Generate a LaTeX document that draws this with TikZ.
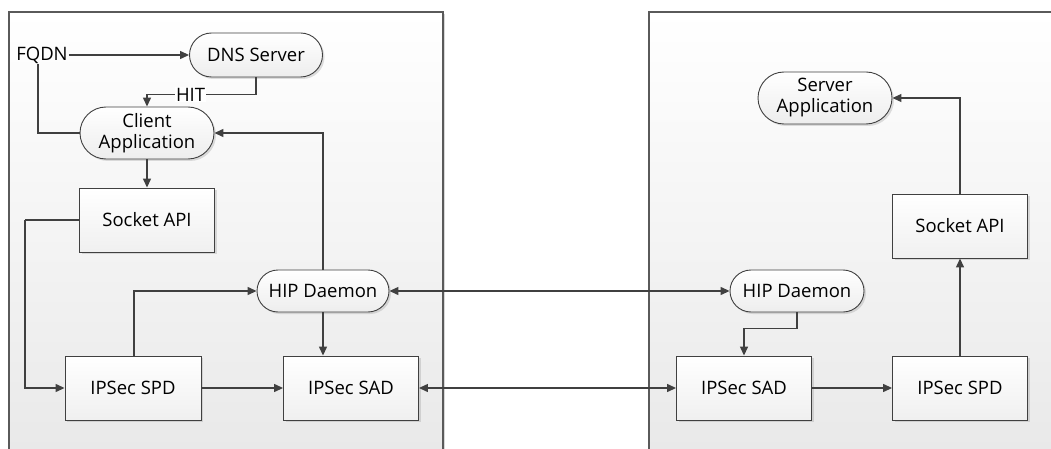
\documentclass[tikz,border=0pt]{standalone}
\usepackage{fontspec}
\setmainfont{Open Sans}
\usetikzlibrary{shapes.misc,arrows.meta,shadows,calc}
\definecolor{edge}{HTML}{404040}
\definecolor{frame}{HTML}{5A5A5A}
\newcommand{\diagfont}{\fontsize{18.5}{21}\selectfont}
\tikzset{
  panel/.style={draw=frame,line width=1.3pt,top color=white,bottom color=black!9},
  procbox/.style={draw=edge,line width=0.9pt,minimum width=135pt,minimum height=64pt,
    top color=white,bottom color=black!6,drop shadow={shadow xshift=2pt,shadow yshift=-2pt,opacity=0.25},
    font=\diagfont,align=center,inner sep=2pt},
  pill/.style={rounded rectangle,draw=edge,line width=0.9pt,minimum width=135pt,
    top color=white,bottom color=black!7,drop shadow={shadow xshift=2pt,shadow yshift=-2pt,opacity=0.25},
    font=\diagfont,align=center,inner sep=1pt},
  link/.style={draw=edge,line width=1.3pt,-{Triangle[width=8pt,length=9pt]}},
  dlink/.style={draw=edge,line width=1.3pt,{Triangle[width=8pt,length=9pt]}-{Triangle[width=8pt,length=9pt]}},
  plain/.style={draw=edge,line width=1.3pt},
  lbl/.style={font=\diagfont,inner sep=1pt}
}
\begin{document}
\begin{tikzpicture}[x=1pt,y=-1pt]
\useasboundingbox (0,0) rectangle (1051,449);
\clip (0,0) rectangle (1051,449);
\fill[white] (0,0) rectangle (1051,449);
% two host panels
\path[panel,drop shadow={shadow xshift=2pt,shadow yshift=-2pt,opacity=0.3}] (9,12) rectangle (443,470);
\path[panel] (649,12) rectangle (1070,470);

% initiating host
\node[lbl] (fqdn) at (42,55) {FQDN};
\node[pill,minimum width=135pt,minimum height=44pt] (dns) at (256,55) {DNS Server};
\node[pill,minimum width=136pt,minimum height=52pt] (client) at (147,133) {Client\\Application};
\node[procbox] (sockL) at (147,220) {Socket API};
\node[pill,minimum width=134pt,minimum height=42pt] (hipL) at (323,291) {HIP Daemon};
\node[procbox,minimum width=136pt] (spdL) at (133,388) {IPSec SPD};
\node[procbox] (sadL) at (351,388) {IPSec SAD};

% responding host
\node[pill,minimum width=136pt,minimum height=52pt] (server) at (825,98) {Server\\Application};
\node[procbox] (sockR) at (960,226) {Socket API};
\node[pill,minimum width=136pt,minimum height=42pt] (hipR) at (797,291) {HIP Daemon};
\node[procbox] (sadR) at (744,388) {IPSec SAD};
\node[procbox] (spdR) at (960,388) {IPSec SPD};

% connectors, initiating host
\draw[link] (fqdn.east) -- (dns.west);
\draw[plain] (fqdn.south -| 38,0) |- (client.west);
\draw[link] (dns.south) -- ++(0,17) -| node[pos=0.3,lbl,fill=white] {HIT} (client.north);
\draw[link] (client.south) -- (sockL.north);
\draw[plain] (sockL.west) -- ++(-54,0) coordinate (sockbend);
\draw[link] (sockbend) |- (spdL.west);
\draw[link] (spdL.north -| 134,0) |- (hipL.west);
\draw[link] (spdL.east) -- (sadL.west);
\draw[link] (hipL.south) -- (sadL.north -| hipL.south);
\draw[link] (hipL.north) |- (client.east);

% between hosts
\draw[dlink] (hipL.east) -- (hipR.west);
\draw[dlink] (sadL.east) -- (sadR.west);

% connectors, responding host
\draw[link] (hipR.south) -- ++(0,16) -| (sadR.north);
\draw[link] (sadR.east) -- (spdR.west);
\draw[link] (spdR.north) -- (sockR.south);
\draw[link] (sockR.north) |- (server.east);
\end{tikzpicture}
\end{document}
